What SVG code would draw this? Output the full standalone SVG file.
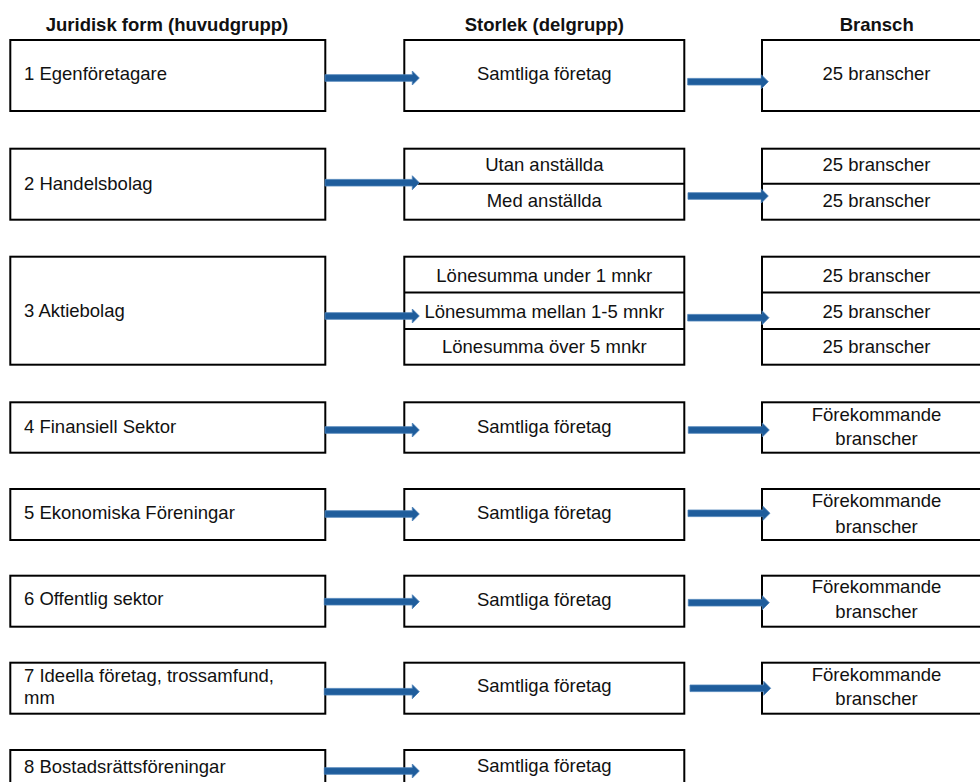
<svg xmlns="http://www.w3.org/2000/svg" width="980" height="782" viewBox="0 0 980 782">
<style>
.box{fill:#fff;stroke:#000;stroke-width:2}
.div{stroke:#000;stroke-width:2}
.t{font-family:"Liberation Sans",Arial,sans-serif;font-size:18.5px;fill:#111}
.h{font-family:"Liberation Sans",Arial,sans-serif;font-size:18.5px;font-weight:bold;fill:#111;text-anchor:middle}
.c{text-anchor:middle}
.arr{fill:#1f5d9c;stroke:#4a80b8;stroke-width:0.8}
</style>
<rect width="980" height="782" fill="#fff"/>
<g id="headers">
<text class="h" x="167" y="31">Juridisk form (huvudgrupp)</text>
<text class="h" x="544.3" y="31">Storlek (delgrupp)</text>
<text class="h" x="876.7" y="31">Bransch</text>
</g>
<g id="row1">
<g id="n1-left"><rect class="box" x="10.3" y="40" width="315" height="71"/><text class="t" x="24" y="80">1 Egenföretagare</text></g>
<g id="n1-mid"><rect class="box" x="404.3" y="40" width="280" height="71"/><text class="t c" x="544.3" y="80">Samtliga företag</text></g>
<g id="n1-right"><rect class="box" x="762" y="40" width="230" height="71"/><text class="t c" x="876.5" y="80">25 branscher</text></g>
</g>
<g id="row2">
<g id="n2-left"><rect class="box" x="10.3" y="148.7" width="315" height="71"/><text class="t" x="24" y="190">2 Handelsbolag</text></g>
<g id="n2-mid"><rect class="box" x="404.3" y="148.7" width="280" height="71"/><line class="div" x1="404.3" y1="183.8" x2="684.3" y2="183.8"/><text class="t c" x="544.3" y="171">Utan anställda</text><text class="t c" x="544.3" y="207">Med anställda</text></g>
<g id="n2-right"><rect class="box" x="762" y="148.7" width="230" height="71"/><line class="div" x1="762" y1="183.8" x2="992" y2="183.8"/><text class="t c" x="876.5" y="171">25 branscher</text><text class="t c" x="876.5" y="207">25 branscher</text></g>
</g>
<g id="row3">
<g id="n3-left"><rect class="box" x="10.3" y="256.7" width="315" height="108"/><text class="t" x="24" y="317">3 Aktiebolag</text></g>
<g id="n3-mid"><rect class="box" x="404.3" y="256.7" width="280" height="108"/><line class="div" x1="404.3" y1="292.5" x2="684.3" y2="292.5"/><line class="div" x1="404.3" y1="329" x2="684.3" y2="329"/><text class="t c" x="544.3" y="281.5">Lönesumma under 1 mnkr</text><text class="t c" x="544.3" y="317.7">Lönesumma mellan 1-5 mnkr</text><text class="t c" x="544.3" y="353.3">Lönesumma över 5 mnkr</text></g>
<g id="n3-right"><rect class="box" x="762" y="256.7" width="230" height="108"/><line class="div" x1="762" y1="292.5" x2="992" y2="292.5"/><line class="div" x1="762" y1="329" x2="992" y2="329"/><text class="t c" x="876.5" y="281.5">25 branscher</text><text class="t c" x="876.5" y="317.7">25 branscher</text><text class="t c" x="876.5" y="353.3">25 branscher</text></g>
</g>
<g id="row4">
<g id="n4-left"><rect class="box" x="10.3" y="402.3" width="315" height="50.4"/><text class="t" x="24" y="432.5">4 Finansiell Sektor</text></g>
<g id="n4-mid"><rect class="box" x="404.3" y="402.3" width="280" height="50.4"/><text class="t c" x="544.3" y="432.5">Samtliga företag</text></g>
<g id="n4-right"><rect class="box" x="762" y="402.3" width="230" height="50.4"/><text class="t c" x="876.5" y="420.7">Förekommande</text><text class="t c" x="876.5" y="445">branscher</text></g>
</g>
<g id="row5">
<g id="n5-left"><rect class="box" x="10.3" y="489" width="315" height="51"/><text class="t" x="24" y="519">5 Ekonomiska Föreningar</text></g>
<g id="n5-mid"><rect class="box" x="404.3" y="489" width="280" height="51"/><text class="t c" x="544.3" y="519">Samtliga företag</text></g>
<g id="n5-right"><rect class="box" x="762" y="489" width="230" height="51"/><text class="t c" x="876.5" y="507.3">Förekommande</text><text class="t c" x="876.5" y="532.7">branscher</text></g>
</g>
<g id="row6">
<g id="n6-left"><rect class="box" x="10.3" y="575.7" width="315" height="51"/><text class="t" x="24" y="605">6 Offentlig sektor</text></g>
<g id="n6-mid"><rect class="box" x="404.3" y="575.7" width="280" height="51"/><text class="t c" x="544.3" y="605.5">Samtliga företag</text></g>
<g id="n6-right"><rect class="box" x="762" y="575.7" width="230" height="51"/><text class="t c" x="876.5" y="593.3">Förekommande</text><text class="t c" x="876.5" y="618.3">branscher</text></g>
</g>
<g id="row7">
<g id="n7-left"><rect class="box" x="10.3" y="662.7" width="315" height="51"/><text class="t" x="24" y="682">7 Ideella företag, trossamfund,</text><text class="t" x="24" y="703.5">mm</text></g>
<g id="n7-mid"><rect class="box" x="404.3" y="662.7" width="280" height="51"/><text class="t c" x="544.3" y="691.5">Samtliga företag</text></g>
<g id="n7-right"><rect class="box" x="762" y="662.7" width="230" height="51"/><text class="t c" x="876.5" y="680.7">Förekommande</text><text class="t c" x="876.5" y="705">branscher</text></g>
</g>
<g id="row8">
<g id="n8-left"><rect class="box" x="10.3" y="750" width="315" height="51"/><text class="t" x="24" y="773">8 Bostadsrättsföreningar</text></g>
<g id="n8-mid"><rect class="box" x="404.3" y="750" width="280" height="51"/><text class="t c" x="544.3" y="772">Samtliga företag</text></g>
</g>
<g id="connectors">
<polygon class="arr" points="325,74.7 412.3,74.7 412.3,71 419.3,78 412.3,85 412.3,81.3 325,81.3"/>
<polygon class="arr" points="687.7,78.4 761.3,78.4 761.3,74.7 768.3,81.7 761.3,88.7 761.3,85 687.7,85"/>
<polygon class="arr" points="325,179.4 412.3,179.4 412.3,175.7 419.3,182.7 412.3,189.7 412.3,186 325,186"/>
<polygon class="arr" points="688,192.7 761.3,192.7 761.3,189 768.3,196 761.3,203 761.3,199.3 688,199.3"/>
<polygon class="arr" points="325,312.7 412.3,312.7 412.3,309 419.3,316 412.3,323 412.3,319.3 325,319.3"/>
<polygon class="arr" points="687.7,314.4 762,314.4 762,310.7 769,317.7 762,324.7 762,321 687.7,321"/>
<polygon class="arr" points="325,426.7 412.3,426.7 412.3,423 419.3,430 412.3,437 412.3,433.3 325,433.3"/>
<polygon class="arr" points="688.3,426.7 762.3,426.7 762.3,423 769.3,430 762.3,437 762.3,433.3 688.3,433.3"/>
<polygon class="arr" points="325,510.7 412.3,510.7 412.3,507 419.3,514 412.3,521 412.3,517.3 325,517.3"/>
<polygon class="arr" points="688,510 763,510 763,506.3 770,513.3 763,520.3 763,516.6 688,516.6"/>
<polygon class="arr" points="324.3,598.4 412.3,598.4 412.3,594.7 419.3,601.7 412.3,608.7 412.3,605 324.3,605"/>
<polygon class="arr" points="688.3,599.4 762.3,599.4 762.3,595.7 769.3,602.7 762.3,609.7 762.3,606 688.3,606"/>
<polygon class="arr" points="324.3,688.4 412.3,688.4 412.3,684.7 419.3,691.7 412.3,698.7 412.3,695 324.3,695"/>
<polygon class="arr" points="690,685 763.7,685 763.7,681.3 770.7,688.3 763.7,695.3 763.7,691.6 690,691.6"/>
<polygon class="arr" points="324.3,767.7 412.3,767.7 412.3,764 419.3,771 412.3,778 412.3,774.3 324.3,774.3"/>
</g>
</svg>
